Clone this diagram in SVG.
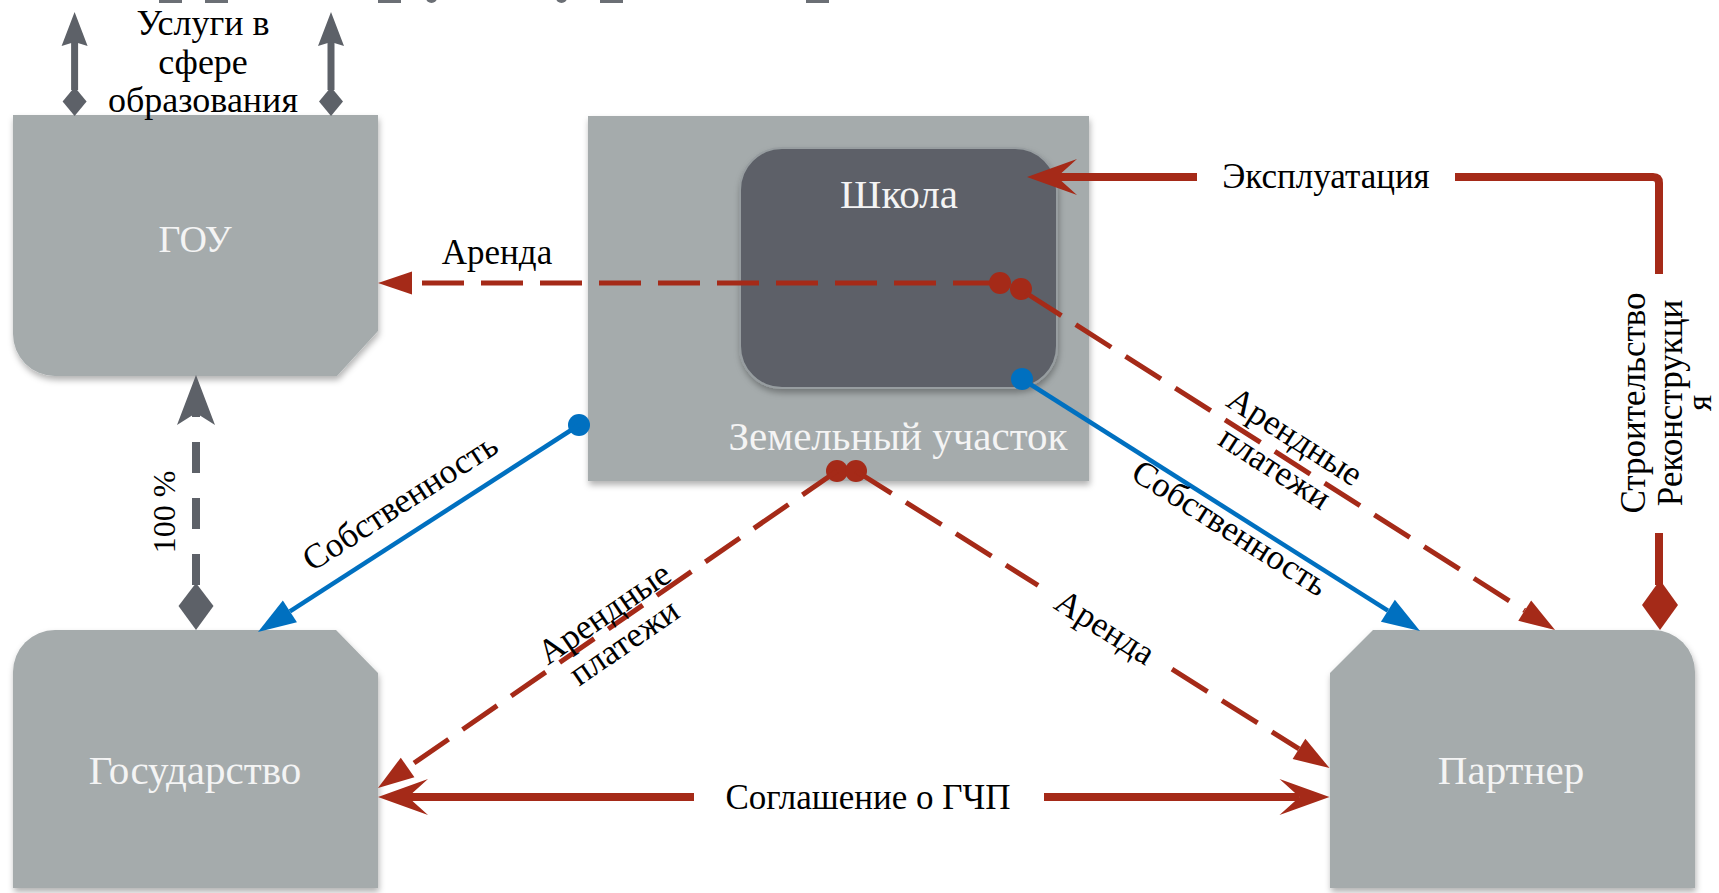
<svg xmlns="http://www.w3.org/2000/svg" width="1719" height="893" viewBox="0 0 1719 893">
<defs>
<filter id="sh" x="-10%" y="-10%" width="125%" height="130%"><feDropShadow dx="1" dy="4" stdDeviation="3" flood-color="#000" flood-opacity="0.3"/></filter>
<marker id="aRed" markerUnits="userSpaceOnUse" orient="auto" markerWidth="10" markerHeight="10" refX="0" refY="0" overflow="visible"><path d="M36,0 L0,-12 L0,12 Z" fill="#a52a18"/></marker>
<marker id="aBlue" markerUnits="userSpaceOnUse" orient="auto" markerWidth="10" markerHeight="10" refX="0" refY="0" overflow="visible"><path d="M38,0 L0,-13 L0,13 Z" fill="#0070c0"/></marker>
<marker id="aRedBig" markerUnits="userSpaceOnUse" orient="auto" markerWidth="10" markerHeight="10" refX="0" refY="0" overflow="visible"><path d="M30,0 L-20,-18 L0,0 L-20,18 Z" fill="#a52a18"/></marker>
<marker id="aGrayBig" markerUnits="userSpaceOnUse" orient="auto" markerWidth="10" markerHeight="10" refX="0" refY="0" overflow="visible"><path d="M38,0 L-12,-19 L0,0 L-12,19 Z" fill="#5d6168"/></marker>
<marker id="aGraySm" markerUnits="userSpaceOnUse" orient="auto" markerWidth="10" markerHeight="10" refX="0" refY="0" overflow="visible"><path d="M30,0 L-4,-13 L0,0 L-4,13 Z" fill="#5d6168"/></marker>
</defs>
<style>
.box{fill:#a5abac;filter:url(#sh)}
.school{fill:#5d6168;stroke:#979da0;stroke-width:2;filter:url(#sh)}
.nl{font-family:"Liberation Serif","DejaVu Serif",serif;font-size:41px;fill:#f4f4f4;text-anchor:middle;dominant-baseline:central}
.el{font-family:"Liberation Serif","DejaVu Serif",serif;font-size:35px;fill:#000;text-anchor:middle;dominant-baseline:central}
.svc{font-family:"Liberation Serif","DejaVu Serif",serif;font-size:36px;fill:#000;text-anchor:middle}
.rd{stroke:#a52a18;stroke-width:5;fill:none;stroke-dasharray:42 17}
.rs{stroke:#a52a18;stroke-width:8;fill:none}
.bl{stroke:#0070c0;stroke-width:4.5;fill:none}
.gr{stroke:#5d6168;stroke-width:7;fill:none}
.grd{stroke:#5d6168;stroke-width:8;fill:none;stroke-dasharray:31 25}
.red{fill:#a52a18}
.blue{fill:#0070c0}
.gray{fill:#5d6168}
.rem{fill:#6b6f75}
</style>
<rect width="1719" height="893" fill="#fff"/>

<g id="top-remnants">
<rect class="rem" x="159" y="-6" width="23" height="9"/>
<rect class="rem" x="205" y="-6" width="23" height="9"/>
<rect class="rem" x="378" y="-6" width="23" height="9"/>
<ellipse class="rem" cx="431.5" cy="-2" rx="5.5" ry="5"/>
<ellipse class="rem" cx="561.5" cy="-2" rx="5.5" ry="5"/>
<rect class="rem" x="600" y="-6" width="23" height="9"/>
<rect class="rem" x="806" y="-6" width="23" height="9"/>
</g>

<g id="node-gou">
<path class="box" d="M13,115 H378 V331 L337,376 H55 A42,42 0 0 1 13,334 Z"/>
<text class="nl" x="195" y="239" style="font-size:38px">ГОУ</text>
</g>

<g id="node-land">
<rect class="box" x="588" y="116" width="501" height="365"/>
<text class="nl" x="898" y="436">Земельный участок</text>
</g>

<g id="node-school">
<rect class="school" x="740" y="148" width="317" height="240" rx="42" ry="42"/>
<text class="nl" x="899" y="194">Школа</text>
</g>

<g id="node-gos">
<path class="box" d="M55,630 H336 L378,673 V888 H13 V672 A42,42 0 0 1 55,630 Z"/>
<text class="nl" x="195" y="770">Государство</text>
</g>

<g id="node-partner">
<path class="box" d="M1373,630 H1653 A42,42 0 0 1 1695,672 V888 H1330 V673 Z"/>
<text class="nl" x="1511" y="770">Партнер</text>
</g>

<g id="connectors">
<path class="gr" d="M74.6,90 V42" marker-end="url(#aGraySm)"/>
<polygon class="gray" points="74.6,87 86.6,101.5 74.6,116 62.6,101.5"/>
<path class="gr" d="M331,90 V42" marker-end="url(#aGraySm)"/>
<polygon class="gray" points="331,87 343,101.5 331,116 319,101.5"/>

<path class="grd" d="M196,585 V413" marker-end="url(#aGrayBig)"/>
<polygon class="gray" points="196,583 213.5,606 196,630 178.5,606"/>

<path class="rd" d="M412,283 H995" stroke-dashoffset="-10"/>
<polygon class="red" points="378,283 412,271.5 412,294.5"/>
<circle class="red" cx="1000" cy="283" r="11"/>
<circle class="red" cx="1021" cy="289" r="11"/>

<path class="rd" d="M1026,293 L1524.7,610.6" marker-end="url(#aRed)"/>

<circle class="blue" cx="1022" cy="379" r="11"/>
<path class="bl" d="M1022,379 L1387.9,610.7" marker-end="url(#aBlue)"/>

<circle class="blue" cx="579" cy="425" r="11"/>
<path class="bl" d="M579,425 L289.9,611.4" marker-end="url(#aBlue)"/>

<circle class="red" cx="837" cy="471" r="11"/>
<circle class="red" cx="856" cy="471" r="11"/>

<path class="rd" d="M837,471 L407.6,767.5" marker-end="url(#aRed)"/>

<path class="rd" d="M856,471 L1038.1,585.3"/>
<path class="rd" d="M1172,669.2 L1299,748.9" marker-end="url(#aRed)"/>

<path class="rs" d="M694,797 H408" marker-end="url(#aRedBig)"/>
<path class="rs" d="M1044,797 H1299.5" marker-end="url(#aRedBig)"/>

<path class="rs" d="M1659,274 V183 Q1659,177 1653,177 H1455"/>
<path class="rs" d="M1197,177 H1057" marker-end="url(#aRedBig)"/>

<path class="rs" d="M1659,533 V585"/>
<polygon class="red" points="1660,580 1678,605 1660,630 1642,605"/>
</g>

<g id="labels">
<text class="svc" x="203" y="35">Услуги в</text>
<text class="svc" x="203" y="73.5">сфере</text>
<text class="svc" x="203" y="112">образования</text>
<text class="el" x="497" y="252">Аренда</text>
<text class="el" x="1326" y="176">Эксплуатация</text>
<text class="el" x="868" y="797">Соглашение о ГЧП</text>
<text class="el" transform="translate(164,512) rotate(-90)" style="font-size:32px">100 %</text>
<g transform="translate(1285,452) rotate(32.6)">
<text class="el" x="0" y="-18.5">Арендные</text>
<text class="el" x="0" y="18.5">платежи</text>
</g>
<g transform="translate(614,627.5) rotate(-34.5)">
<text class="el" x="0" y="-17.5">Арендные</text>
<text class="el" x="0" y="17.5">платежи</text>
</g>
<text class="el" transform="translate(400,502) rotate(-32.8)">Собственность</text>
<text class="el" transform="translate(1230,528) rotate(32.3)">Собственность</text>
<text class="el" transform="translate(1105,627) rotate(32.1)">Аренда</text>
<text class="el" transform="translate(1633,403) rotate(-90)">Строительство</text>
<text class="el" transform="translate(1670,403) rotate(-90)">Реконструкци</text>
<text class="el" transform="translate(1699,403) rotate(-90)">я</text>
</g>
</svg>
